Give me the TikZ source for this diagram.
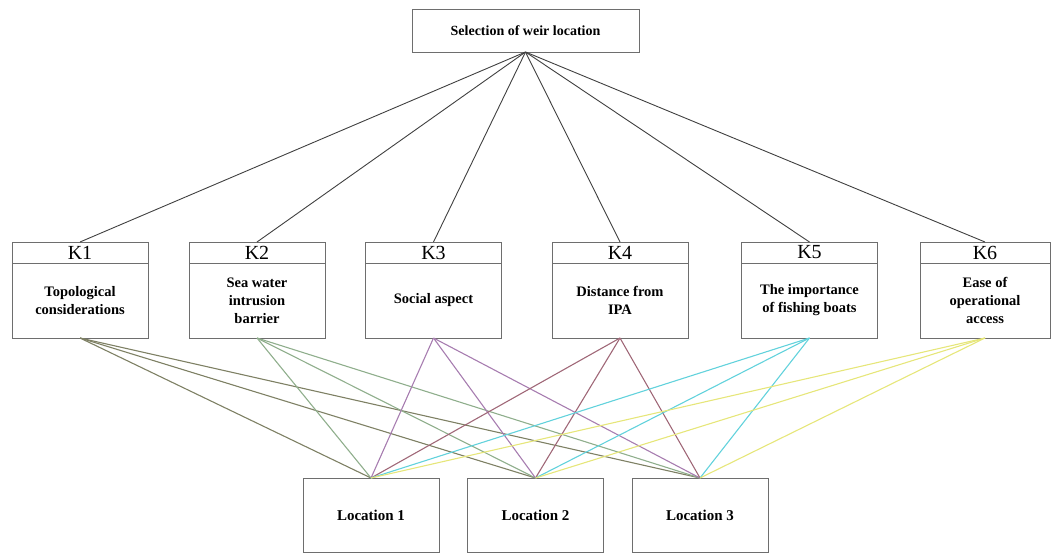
\documentclass[tikz,border=0pt]{standalone}
\usepackage{fontspec}
\setmainfont{Liberation Serif}
\usetikzlibrary{positioning}
\definecolor{boxline}{HTML}{6E6E6E}
\definecolor{cone}{HTML}{7E8064}
\definecolor{ctwo}{HTML}{8FAE8C}
\definecolor{cthree}{HTML}{A77DB0}
\definecolor{cfour}{HTML}{A06878}
\definecolor{cfive}{HTML}{62D2DC}
\definecolor{csix}{HTML}{E6E67A}

\begin{document}
\begin{tikzpicture}[x=1pt, y=-1pt,
  goal/.style={draw=boxline, line width=1pt, outer sep=0pt, minimum width=227pt, minimum height=43pt,
    font=\fontsize{14}{17}\selectfont\bfseries},
  crit/.style={draw=boxline, line width=1pt, outer sep=0pt, minimum width=136pt, minimum height=75pt,
    align=center, font=\fontsize{14.5}{18}\selectfont\bfseries},
  crithead/.style={draw=boxline, line width=1pt, outer sep=0pt, inner sep=0pt, minimum width=136pt,
    minimum height=21pt, font=\fontsize{20}{20}\selectfont},
  alt/.style={draw=boxline, line width=1pt, outer sep=0pt, minimum width=136pt, minimum height=74pt,
    font=\fontsize{15}{18}\selectfont\bfseries},
  link/.style={line width=0.9pt, black!75}]
  \useasboundingbox (0,0) rectangle (1052,554);

  % Tujuan
  \node[goal] (goal) at (525.5,30.5) {Selection of weir location};

  % Kriteria
  \node[crit] (k1) at (80,300.5) {Topological\\considerations};
  \node[crit] (k2) at (257,300.5) {Sea water\\intrusion\\barrier};
  \node[crit] (k3) at (433.5,300.5) {Social aspect};
  \node[crit] (k4) at (620,300.5) {Distance from\\IPA};
  \node[crit] (k5) at (809.5,300.5) {The importance\\of fishing boats};
  \node[crit, minimum width=130pt] (k6) at (985,300.5) {Ease of\\operational\\access};
  \foreach \k/\t in {k1/K1, k2/K2, k3/K3, k4/K4, k5/K5}
    \node[crithead, above=0pt of \k] (\k h) {\t};
  \node[crithead, minimum width=130pt, above=0pt of k6] (k6h) {K6};

  % Alternatif
  \node[alt] (l1) at (371,515) {Location 1};
  \node[alt] (l2) at (535.5,515) {Location 2};
  \node[alt] (l3) at (700,515) {Location 3};

  % Garis tujuan ke kriteria
  \foreach \k in {k1,k2,k3,k4,k5,k6}
    \draw[link] (goal.south) -- (\k h.north);

  % Garis kriteria ke alternatif
  \foreach \k/\c in {k1/cone, k2/ctwo, k3/cthree, k4/cfour, k5/cfive, k6/csix}
    \foreach \l in {l1,l2,l3}
      \draw[\c, line width=1.1pt] (\k.south) -- (\l.north);
\end{tikzpicture}
\end{document}
